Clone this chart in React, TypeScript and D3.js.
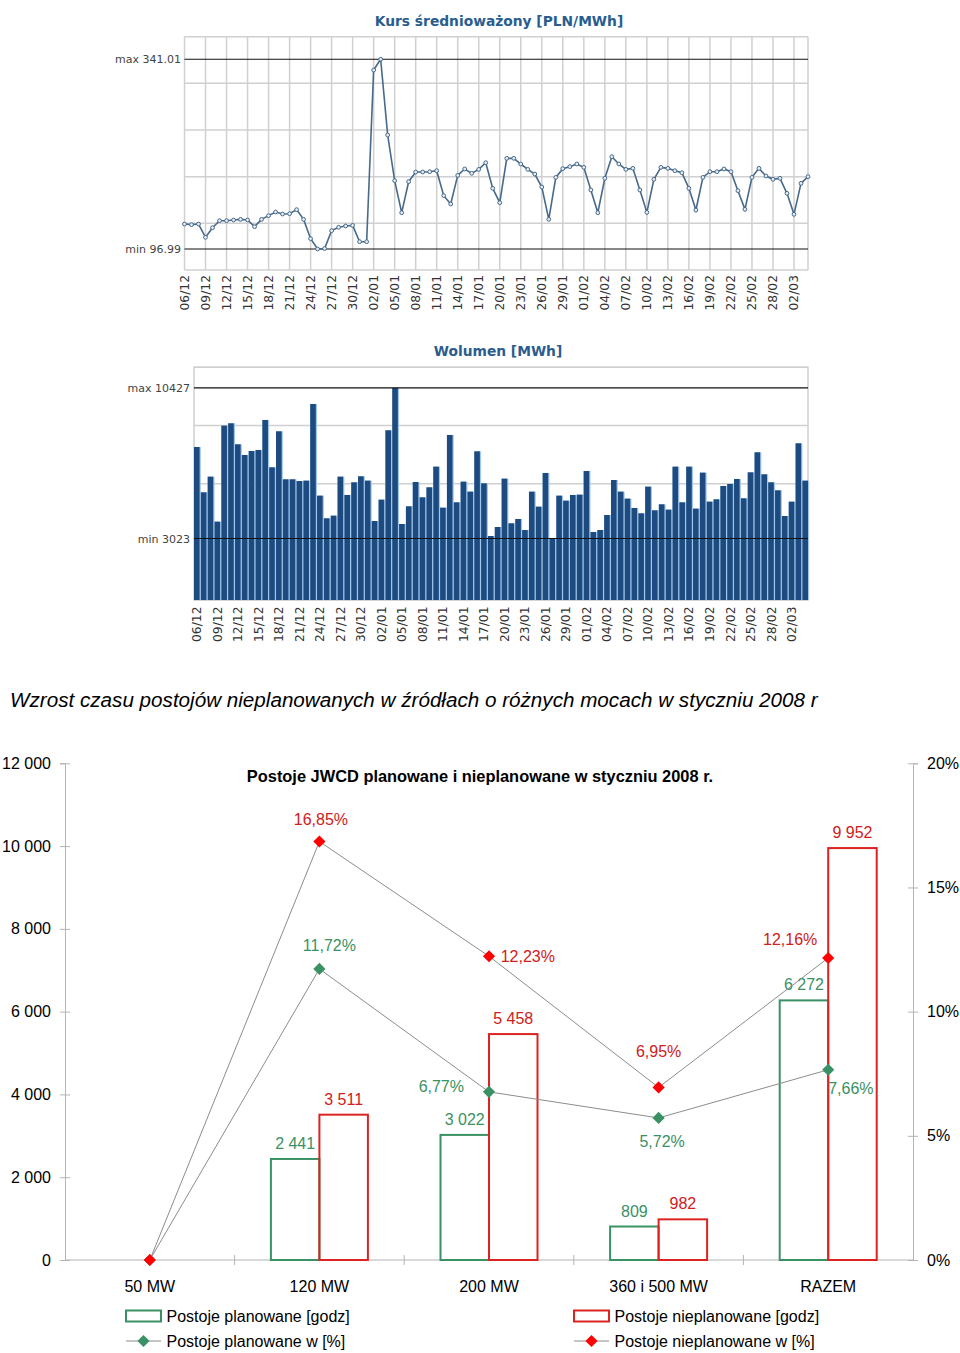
import React, { useEffect, useRef } from 'react';
import * as d3 from 'd3';

// etykiety osi dni (co 3 dni)
const dayTicks = [
    '06/12', '09/12', '12/12', '15/12', '18/12', '21/12', '24/12', '27/12', '30/12', '02/01',
    '05/01', '08/01', '11/01', '14/01', '17/01', '20/01', '23/01', '26/01', '29/01', '01/02',
    '04/02', '07/02', '10/02', '13/02', '16/02', '19/02', '22/02', '25/02', '28/02', '02/03',
];

// kurs średnioważony, dzień po dniu od 06/12
const kurs = [
    129.1, 128.3, 129.1, 112.0, 124.4, 133.4, 133.4, 134.3, 135.1, 134.3,
    125.7, 135.1, 139.9, 144.6, 142.0, 142.4, 147.6, 135.1, 110.3, 96.99,
    97.6, 120.6, 124.9, 126.6, 127.4, 106.4, 106.4, 327.1, 341.01, 243.6,
    184.9, 143.7, 183.6, 196.0, 196.0, 196.4, 197.7, 165.6, 154.9, 191.7,
    199.9, 194.3, 199.4, 208.0, 175.0, 156.6, 213.6, 213.6, 206.3, 199.4,
    193.4, 176.7, 135.1, 189.1, 200.3, 202.9, 206.3, 202.0, 172.9, 143.7,
    187.9, 215.7, 206.3, 199.4, 200.7, 172.9, 144.1, 186.6, 202.0, 200.7,
    197.7, 195.1, 175.0, 147.1, 189.1, 196.4, 196.4, 199.9, 196.4, 172.0,
    148.0, 189.1, 200.7, 190.9, 186.6, 187.9, 168.6, 141.6, 181.4, 190.0,
];
const kursMax = 341.01;
const kursMin = 96.99;
const kursGrid = [70, 130, 190, 250, 310, 370];

// wolumen [MWh]
const wolumen = [
    7523, 5294, 6064, 3852, 8572, 8687, 7654, 7130, 7326, 7376,
    8851, 6523, 8293, 5933, 5933, 5851, 5868, 9637, 5130, 4016,
    4147, 6064, 5163, 5786, 6081, 5868, 3884, 4933, 8343, 10427,
    3737, 4606, 5802, 5048, 5540, 6556, 4540, 8113, 4802, 5818,
    5327, 7310, 5737, 3147, 3589, 5966, 3770, 3983, 3442, 5327,
    4589, 6245, 3023, 5130, 4884, 5163, 5179, 6343, 3344, 3442,
    4179, 5900, 5327, 4983, 4524, 4261, 5573, 4409, 4704, 4442,
    6556, 4802, 6556, 4491, 6261, 4835, 4950, 5605, 5704, 5950,
    4999, 6277, 7261, 6179, 5786, 5392, 4130, 4835, 7703, 5868,
];
const wolMax = 10427;
const wolMin = 3023;
const wolGrid = [0, 2860, 5720, 8580, 11440];

// postoje JWCD
const categories = ['50 MW', '120 MW', '200 MW', '360 i 500 MW', 'RAZEM'];
const plannedHours = [0, 2441, 3022, 809, 6272];
const unplannedHours = [0, 3511, 5458, 982, 9952];
const plannedPct = [0, 11.72, 6.77, 5.72, 7.66];
const unplannedPct = [0, 16.85, 12.23, 6.95, 12.16];
const hoursTicks = [0, 2000, 4000, 6000, 8000, 10000, 12000];
const pctTicks = [0, 5, 10, 15, 20];

const TOP_FONT = '"DejaVu Sans", Verdana, sans-serif';
const FONT = '"Liberation Sans", Arial, Helvetica, sans-serif';
const TITLE_BLUE = '#2a5d8f';
const GREEN = '#3a9163';
const RED_BAR = '#dd2222';
const RED_TXT = '#cf2020';

// położenie etykiet procentowych względem punktu
const plannedLabelPos = [
    null,
    { dx: 10, dy: -17.6, anchor: 'middle' },
    { dx: -25, dy: 0, anchor: 'end' },
    { dx: 3.5, dy: 28.7, anchor: 'middle' },
    { dx: 0, dy: 24, anchor: 'start' },
];
const unplannedLabelPos = [
    null,
    { dx: 1.5, dy: -16.3, anchor: 'middle' },
    { dx: 11.7, dy: 6, anchor: 'start' },
    { dx: 0, dy: -30.6, anchor: 'middle' },
    { dx: -38, dy: -13.4, anchor: 'middle' },
];

const loc = d3.formatLocale({ decimal: ',', thousands: ' ', grouping: [3], currency: ['', ''] });
const fmtHours = loc.format(',d');
const fmtPct = loc.format('.2f');

const drawKurs = (svg) => {
    const g = svg.append('g');
    const n = kurs.length;
    const x = d3.scaleLinear().domain([0, n - 1]).range([184.5, 808]);
    const y = d3.scaleLinear().domain([kursGrid[0], kursGrid[kursGrid.length - 1]]).range([270, 36.7]);

    g.append('text')
        .attr('x', 499).attr('y', 25.5)
        .attr('text-anchor', 'middle')
        .attr('font-family', TOP_FONT).attr('font-weight', 'bold').attr('font-size', 13.8)
        .attr('fill', TITLE_BLUE)
        .text('Kurs średnioważony [PLN/MWh]');

    // siatka
    g.append('g').selectAll('line')
        .data(kursGrid)
        .join('line')
        .attr('x1', x(0)).attr('x2', x(n - 1))
        .attr('y1', d => y(d)).attr('y2', d => y(d))
        .attr('stroke', '#d0d0d0').attr('stroke-width', 1.5);

    const vIdx = dayTicks.map((_, k) => k * 3).concat([n - 1]);
    g.append('g').selectAll('line')
        .data(vIdx)
        .join('line')
        .attr('x1', d => x(d)).attr('x2', d => x(d))
        .attr('y1', y(kursGrid[0])).attr('y2', y(kursGrid[kursGrid.length - 1]))
        .attr('stroke', '#d0d0d0').attr('stroke-width', 1.5);

    // max / min
    g.append('g').selectAll('line')
        .data([kursMax, kursMin])
        .join('line')
        .attr('x1', x(0)).attr('x2', x(n - 1))
        .attr('y1', d => y(d)).attr('y2', d => y(d))
        .attr('stroke', '#111').attr('stroke-width', 1.2);

    g.append('g').selectAll('text')
        .data([`max ${kursMax.toFixed(2)}`, `min ${kursMin.toFixed(2)}`])
        .join('text')
        .attr('x', 181)
        .attr('y', (_, i) => y(i === 0 ? kursMax : kursMin) + 4)
        .attr('text-anchor', 'end')
        .attr('font-family', TOP_FONT).attr('font-size', 11)
        .attr('fill', '#444')
        .text(d => d);

    const line = d3.line<number>().x((_, i) => x(i)).y(d => y(d));
    g.append('path')
        .datum(kurs)
        .attr('fill', 'none')
        .attr('stroke', '#47698a')
        .attr('stroke-width', 1.6)
        .attr('d', line);

    g.append('g').selectAll('circle')
        .data(kurs)
        .join('circle')
        .attr('cx', (_, i) => x(i)).attr('cy', d => y(d))
        .attr('r', 1.9)
        .attr('fill', '#e6edf3')
        .attr('stroke', '#47698a').attr('stroke-width', 1);

    g.append('g').selectAll('text')
        .data(dayTicks)
        .join('text')
        .attr('transform', (_, k) => `translate(${x(k * 3) + 4.5},275) rotate(-90)`)
        .attr('text-anchor', 'end')
        .attr('font-family', TOP_FONT).attr('font-size', 12.3)
        .attr('fill', '#333')
        .text(d => d);
};

const drawWolumen = (svg) => {
    const g = svg.append('g');
    const n = wolumen.length;
    const x = d3.scaleBand<number>().domain(d3.range(n)).range([194, 808]).paddingInner(0.18).paddingOuter(0);
    const y = d3.scaleLinear().domain([0, wolGrid[wolGrid.length - 1]]).range([600, 367.3]);

    g.append('text')
        .attr('x', 498).attr('y', 356)
        .attr('text-anchor', 'middle')
        .attr('font-family', TOP_FONT).attr('font-weight', 'bold').attr('font-size', 13.8)
        .attr('fill', TITLE_BLUE)
        .text('Wolumen [MWh]');

    g.append('rect')
        .attr('x', 194).attr('y', y(wolGrid[wolGrid.length - 1]))
        .attr('width', 808 - 194).attr('height', 600 - y(wolGrid[wolGrid.length - 1]))
        .attr('fill', 'none').attr('stroke', '#d0d0d0').attr('stroke-width', 1.5);

    g.append('g').selectAll('line')
        .data(wolGrid)
        .join('line')
        .attr('x1', 194).attr('x2', 808)
        .attr('y1', d => y(d)).attr('y2', d => y(d))
        .attr('stroke', '#d0d0d0').attr('stroke-width', 1.5);

    // jasny pasek przy każdym słupku
    g.append('g').selectAll('rect')
        .data(wolumen)
        .join('rect')
        .attr('x', (_, i) => x(i))
        .attr('y', d => y(d))
        .attr('width', x.step())
        .attr('height', d => y(0) - y(d))
        .attr('fill', '#9fc6ec');

    g.append('g').selectAll('rect')
        .data(wolumen)
        .join('rect')
        .attr('x', (_, i) => x(i))
        .attr('y', d => y(d))
        .attr('width', x.bandwidth())
        .attr('height', d => y(0) - y(d))
        .attr('fill', '#1d4b7f');

    g.append('g').selectAll('line')
        .data([wolMax, wolMin])
        .join('line')
        .attr('x1', 194).attr('x2', 808)
        .attr('y1', d => y(d)).attr('y2', d => y(d))
        .attr('stroke', '#111').attr('stroke-width', 1.2);

    g.append('g').selectAll('text')
        .data([`max ${wolMax}`, `min ${wolMin}`])
        .join('text')
        .attr('x', 190)
        .attr('y', (_, i) => y(i === 0 ? wolMax : wolMin) + 4)
        .attr('text-anchor', 'end')
        .attr('font-family', TOP_FONT).attr('font-size', 11)
        .attr('fill', '#444')
        .text(d => d);

    g.append('g').selectAll('text')
        .data(dayTicks)
        .join('text')
        .attr('transform', (_, k) => `translate(${x(k * 3) + x.bandwidth() / 2 + 4.5},606.5) rotate(-90)`)
        .attr('text-anchor', 'end')
        .attr('font-family', TOP_FONT).attr('font-size', 12.3)
        .attr('fill', '#333')
        .text(d => d);
};

const drawPostoje = (svg) => {
    const g = svg.append('g').attr('font-family', FONT);
    const left = 65;
    const right = 913;
    const x = d3.scaleBand().domain(categories).range([left, right]);
    const yh = d3.scaleLinear().domain([0, hoursTicks[hoursTicks.length - 1]]).range([1260, 763.3]);
    const yp = d3.scaleLinear().domain([0, pctTicks[pctTicks.length - 1]]).range([1260, 763.3]);
    const barW = 48.5;
    const cx = (c) => x(c) + x.bandwidth() / 2;

    g.append('text')
        .attr('x', 10).attr('y', 706.5)
        .attr('font-style', 'italic').attr('font-size', 20.65)
        .attr('fill', '#000')
        .text('Wzrost czasu postojów nieplanowanych w źródłach o różnych mocach w styczniu 2008 r');

    g.append('text')
        .attr('x', 480).attr('y', 781.5)
        .attr('text-anchor', 'middle')
        .attr('font-weight', 'bold').attr('font-size', 16.4)
        .text('Postoje JWCD planowane i nieplanowane w styczniu 2008 r.');

    // osie
    const axL = g.append('g').attr('transform', `translate(${left},0)`)
        .call(d3.axisLeft(yh).tickValues(hoursTicks).tickSize(5).tickPadding(9).tickFormat(d => fmtHours(d)));
    axL.select('.domain').attr('stroke', '#b4b4b4');
    axL.selectAll('.tick line').attr('x2', -5).attr('x1', 5).attr('stroke', '#b4b4b4');
    axL.selectAll('.tick text').attr('font-size', 16).attr('font-family', FONT).attr('fill', '#000');

    const axR = g.append('g').attr('transform', `translate(${right},0)`)
        .call(d3.axisRight(yp).tickValues(pctTicks).tickSize(5).tickPadding(9).tickFormat(d => `${d}%`));
    axR.select('.domain').attr('stroke', '#b4b4b4');
    axR.selectAll('.tick line').attr('x1', -5).attr('stroke', '#b4b4b4');
    axR.selectAll('.tick text').attr('font-size', 16).attr('font-family', FONT).attr('fill', '#000');

    g.append('line')
        .attr('x1', left).attr('x2', right).attr('y1', yh(0)).attr('y2', yh(0))
        .attr('stroke', '#b4b4b4');
    g.append('g').selectAll('line')
        .data(categories.slice(1))
        .join('line')
        .attr('x1', d => x(d)).attr('x2', d => x(d))
        .attr('y1', yh(0) - 5).attr('y2', yh(0) + 5)
        .attr('stroke', '#b4b4b4');

    g.append('g').selectAll('text')
        .data(categories)
        .join('text')
        .attr('x', d => cx(d)).attr('y', 1292)
        .attr('text-anchor', 'middle').attr('font-size', 16)
        .text(d => d);

    // słupki
    const bars = [
        { values: plannedHours, color: GREEN, text: GREEN, off: -barW },
        { values: unplannedHours, color: RED_BAR, text: RED_TXT, off: 0 },
    ];
    bars.forEach(s => {
        const items = categories.map((c, i) => ({ c, v: s.values[i] })).filter(d => d.v > 0);
        g.append('g').selectAll('rect')
            .data(items)
            .join('rect')
            .attr('x', d => cx(d.c) + s.off)
            .attr('y', d => yh(d.v))
            .attr('width', barW)
            .attr('height', d => yh(0) - yh(d.v))
            .attr('fill', 'none')
            .attr('stroke', s.color).attr('stroke-width', 2);
        g.append('g').selectAll('text')
            .data(items)
            .join('text')
            .attr('x', d => cx(d.c) + s.off + barW / 2)
            .attr('y', d => yh(d.v) - 10)
            .attr('text-anchor', 'middle').attr('font-size', 16)
            .attr('fill', s.text)
            .text(d => fmtHours(d.v));
    });

    // linie procentowe
    const diamond = d3.symbol(d3.symbolSquare, 74);
    const series = [
        { values: plannedPct, fill: GREEN, text: GREEN, pos: plannedLabelPos },
        { values: unplannedPct, fill: '#ff0000', text: RED_TXT, pos: unplannedLabelPos },
    ];
    series.forEach(s => {
        const line = d3.line<number>().x((_, i) => cx(categories[i])).y(d => yp(d));
        g.append('path')
            .datum(s.values)
            .attr('fill', 'none')
            .attr('stroke', '#8c8c8c').attr('stroke-width', 1)
            .attr('d', line);
    });
    series.forEach(s => {
        g.append('g').selectAll('path')
            .data(s.values)
            .join('path')
            .attr('transform', (d, i) => `translate(${cx(categories[i])},${yp(d)}) rotate(45)`)
            .attr('d', diamond)
            .attr('fill', s.fill);
        g.append('g').selectAll('text')
            .data(s.values.map((v, i) => ({ v, i })).filter(d => s.pos[d.i]))
            .join('text')
            .attr('x', d => cx(categories[d.i]) + s.pos[d.i].dx)
            .attr('y', d => yp(d.v) + s.pos[d.i].dy)
            .attr('text-anchor', d => s.pos[d.i].anchor)
            .attr('font-size', 16)
            .attr('fill', s.text)
            .text(d => `${fmtPct(d.v)}%`);
    });

    // legenda
    const legend = [
        { label: 'Postoje planowane [godz]', color: GREEN, kind: 'rect', x: 126, y: 1316 },
        { label: 'Postoje nieplanowane [godz]', color: RED_BAR, kind: 'rect', x: 574, y: 1316 },
        { label: 'Postoje planowane w [%]', color: GREEN, kind: 'line', x: 126, y: 1341 },
        { label: 'Postoje nieplanowane w [%]', color: '#ff0000', kind: 'line', x: 574, y: 1341 },
    ];
    legend.forEach(l => {
        const lg = g.append('g').attr('transform', `translate(${l.x},${l.y})`);
        if (l.kind === 'rect') {
            lg.append('rect').attr('x', 0).attr('y', -5.5).attr('width', 35).attr('height', 11)
                .attr('fill', 'none').attr('stroke', l.color).attr('stroke-width', 2);
        } else {
            lg.append('line').attr('x1', 0).attr('x2', 35).attr('y1', 0).attr('y2', 0)
                .attr('stroke', '#8c8c8c');
            lg.append('path').attr('transform', 'translate(17.5,0) rotate(45)')
                .attr('d', diamond).attr('fill', l.color);
        }
        lg.append('text').attr('x', 40.5).attr('y', 5.5).attr('font-size', 16).text(l.label);
    });
};

const App = () => {
    const svgRef = useRef(null);

    useEffect(() => {
        const svg = d3.select(svgRef.current);
        svg.selectAll('*').remove();
        drawKurs(svg);
        drawWolumen(svg);
        drawPostoje(svg);
    }, []);

    return (
        <div style={{ position: 'absolute', left: 0, top: 0 }}>
            <svg ref={svgRef} width={960} height={1353} style={{ display: 'block', background: '#fff' }} />
        </div>
    );
};

export default App;
